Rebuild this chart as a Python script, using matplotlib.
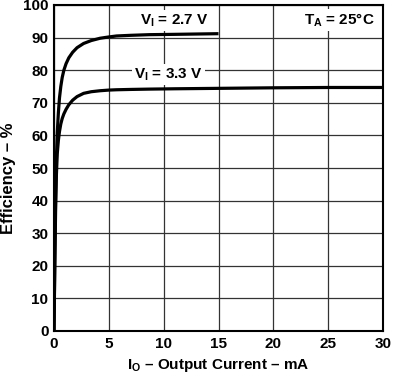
import matplotlib
matplotlib.use("Agg")
from matplotlib import pyplot as plt

plt.rcParams['font.family'] = ['Liberation Sans', 'DejaVu Sans']
plt.rcParams['font.weight'] = 'bold'
plt.rcParams['axes.labelweight'] = 'bold'
plt.rcParams['mathtext.fontset'] = 'custom'
plt.rcParams['mathtext.rm'] = 'Liberation Sans:bold'
plt.rcParams['mathtext.it'] = 'Liberation Sans:bold'
plt.rcParams['mathtext.bf'] = 'Liberation Sans:bold'

# efficiency curves
x_27 = [0, 0.08, 0.15, 0.22, 0.3, 0.4, 0.5, 0.62, 0.75, 0.9, 1.1, 1.35, 1.7,
        2.1, 2.7, 3.4, 4.2, 5.0, 5.7, 7, 8.7, 11, 13, 15]
y_27 = [0, 25, 42, 53, 61, 67, 71.5, 75, 77.8, 80, 82, 83.8, 85.5,
        86.9, 88.2, 89.1, 89.8, 90.2, 90.5, 90.7, 90.9, 91.0, 91.1, 91.2]
x_33 = [0, 0.08, 0.15, 0.22, 0.3, 0.4, 0.5, 0.62, 0.75, 0.9, 1.1, 1.35, 1.7,
        2.1, 2.7, 3.4, 4.2, 5.0, 5.7, 7, 8.7, 11, 14, 17, 20, 25, 30]
y_33 = [0, 22, 38, 48, 54.5, 58.5, 61.2, 63.5, 65.2, 66.6, 68.0, 69.4, 70.8,
        71.9, 72.9, 73.4, 73.7, 73.9, 74.0, 74.1, 74.2, 74.3, 74.4, 74.5, 74.6, 74.7, 74.7]

xticks = [0, 5, 10, 15, 20, 25, 30]
yticks = list(range(0, 101, 10))

fig = plt.figure(figsize=(3.95, 3.74), dpi=100)
ax = fig.add_axes([54 / 395, 43 / 374, 329 / 395, 326 / 374])

ax.set_xlim(0, 30)
ax.set_ylim(0, 100)
ax.set_xticks(xticks)
ax.set_xticklabels([str(v) for v in xticks], fontsize=11, fontweight='bold')
ax.set_yticks(yticks)
ax.set_yticklabels([str(v) for v in yticks], fontsize=11, fontweight='bold')
ax.tick_params(length=0, pad=4)
ax.grid(True, color='#333333', lw=0.9)
for s in ax.spines.values():
    s.set_linewidth(1.5)

ax.plot(x_27, y_27, color='black', lw=2.3, solid_capstyle='butt', solid_joinstyle='round')
ax.plot(x_33, y_33, color='black', lw=2.3, solid_capstyle='butt', solid_joinstyle='round')

box = dict(facecolor='white', edgecolor='none', pad=1.5)
ax.text(7.8, 95.3, r'V$_\mathregular{I}$ = 2.7 V', fontsize=11, fontweight='bold',
        ha='left', va='center', bbox=box)
ax.text(7.3, 78.6, r'V$_\mathregular{I}$ = 3.3 V', fontsize=11, fontweight='bold',
        ha='left', va='center', bbox=box)
ax.text(22.8, 95.3, r'T$_\mathregular{A}$ = 25°C', fontsize=11, fontweight='bold',
        ha='left', va='center', bbox=box)

ax.set_xlabel(r'I$_\mathregular{O}$ – Output Current – mA', fontsize=11,
              fontweight='bold', labelpad=5)
ax.set_ylabel('Efficiency – %', fontsize=12, fontweight='bold')
ax.yaxis.set_label_coords(-0.117, 0.47)

fig.savefig('out.png', dpi=100)
